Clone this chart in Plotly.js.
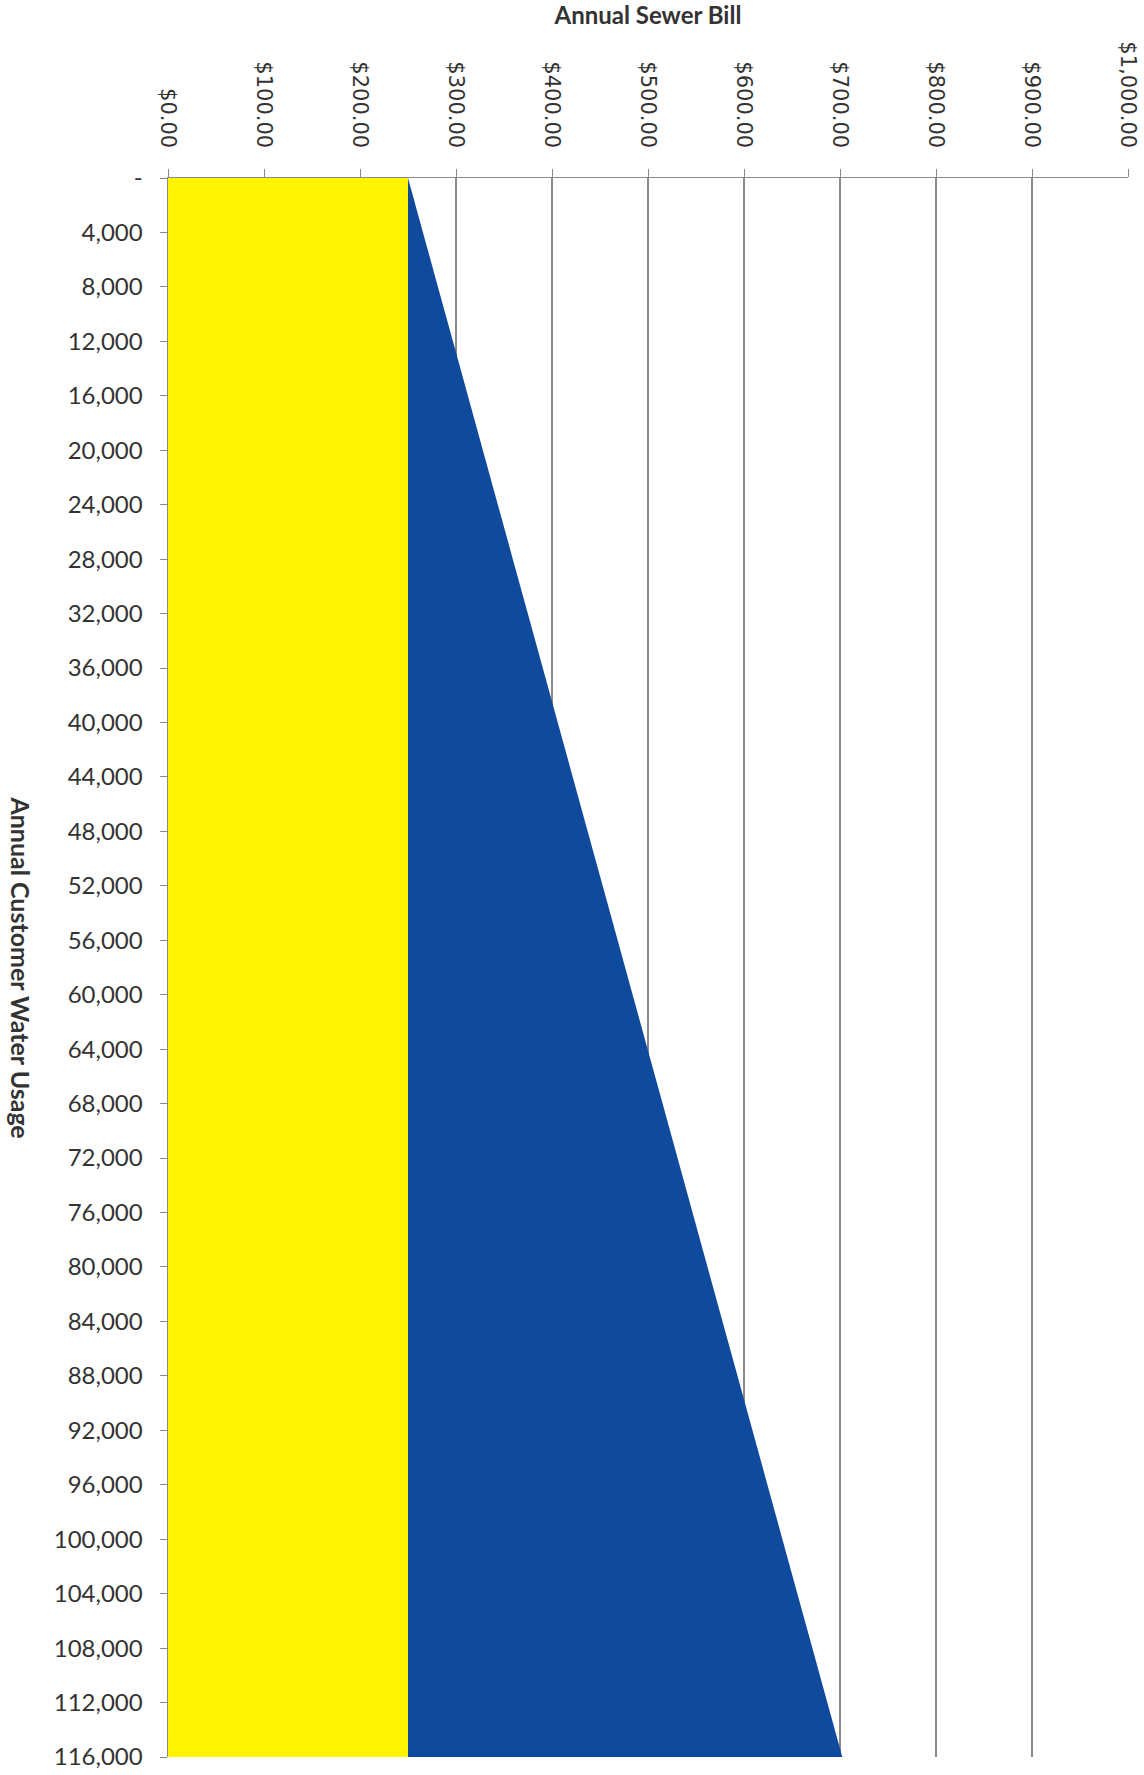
<!DOCTYPE html>
<html>
<head>
<meta charset="utf-8">
<script src="https://cdn.plot.ly/plotly-3.0.1.min.js"></script>
<style>html,body{margin:0;padding:0;background:#fff;}#chart{width:1144px;height:1775px;}</style>
</head>
<body>
<div id="chart"></div>
<script>
// Annual customer water usage (gallons), categories from top to bottom
const usage = [0, 4000, 8000, 12000, 16000, 20000, 24000, 28000, 32000, 36000,
  40000, 44000, 48000, 52000, 56000, 60000, 64000, 68000, 72000, 76000,
  80000, 84000, 88000, 92000, 96000, 100000, 104000, 108000, 112000, 116000];
const usageLabels = ["-", "4,000", "8,000", "12,000", "16,000", "20,000", "24,000", "28,000", "32,000", "36,000",
  "40,000", "44,000", "48,000", "52,000", "56,000", "60,000", "64,000", "68,000", "72,000", "76,000",
  "80,000", "84,000", "88,000", "92,000", "96,000", "100,000", "104,000", "108,000", "112,000", "116,000"];
// Fixed base charge ($) - yellow
const baseCharge = [250, 250, 250, 250, 250, 250, 250, 250, 250, 250,
  250, 250, 250, 250, 250, 250, 250, 250, 250, 250,
  250, 250, 250, 250, 250, 250, 250, 250, 250, 250];
// Volume charge ($) - blue
const volumeCharge = [0, 15.6, 31.2, 46.8, 62.4, 78, 93.6, 109.2, 124.8, 140.4,
  156, 171.6, 187.2, 202.8, 218.4, 234, 249.6, 265.2, 280.8, 296.4,
  312, 327.6, 343.2, 358.8, 374.4, 390, 405.6, 421.2, 436.8, 452.4];
// Bill axis ticks
const billTicks = [0, 100, 200, 300, 400, 500, 600, 700, 800, 900, 1000];
const billTickLabels = ["$0.00", "$100.00", "$200.00", "$300.00", "$400.00", "$500.00",
  "$600.00", "$700.00", "$800.00", "$900.00", "$1,000.00"];

const traces = [
  {
    type: 'scatter', x: baseCharge, y: usage, stackgroup: 'bill', orientation: 'h',
    mode: 'none', fillcolor: '#FFF400', line: {width: 0}, name: 'Base', hoverinfo: 'x+y'
  },
  {
    type: 'scatter', x: volumeCharge, y: usage, stackgroup: 'bill', orientation: 'h',
    mode: 'none', fillcolor: '#104A9C', line: {width: 0}, name: 'Volume', hoverinfo: 'x+y'
  }
];

const layout = {
  width: 1144, height: 1775,
  margin: {l: 168, r: 16, t: 178, b: 18},
  paper_bgcolor: '#ffffff', plot_bgcolor: '#ffffff',
  showlegend: false,
  font: {family: 'Lato, "Open Sans", sans-serif', color: '#333333'},
  xaxis: {
    side: 'top', range: [0, 1000], tickvals: billTicks, ticktext: billTickLabels,
    tickangle: 90, ticks: 'outside', ticklen: 8, tickcolor: '#888888',
    ticklabelstandoff: 13,
    showgrid: true, gridcolor: '#8a8a8a', gridwidth: 1.3,
    showline: true, linecolor: '#8a8a8a', linewidth: 1.5,
    zeroline: false,
    tickfont: {family: '"DejaVu Sans", sans-serif', size: 21, color: '#333333'},
    title: {text: 'Annual Sewer Bill', standoff: 16,
      font: {family: 'Lato, sans-serif', size: 24, color: '#333333', weight: 'bold'}}
  },
  yaxis: {
    range: [116000, 0], tickvals: usage, ticktext: usageLabels,
    ticks: 'outside', ticklen: 7, tickcolor: '#888888',
    ticklabelstandoff: 12,
    showgrid: false, showline: true, linecolor: '#8a8a8a', linewidth: 1.5,
    zeroline: false,
    tickfont: {family: 'Lato, sans-serif', size: 24, color: '#333333'}
  },
  annotations: [{
    text: '<b>Annual Customer Water Usage</b>', textangle: 90,
    xref: 'paper', yref: 'paper', x: -0.153, y: 0.5, xanchor: 'center', yanchor: 'middle',
    showarrow: false, font: {family: 'Lato, sans-serif', size: 25, color: '#333333'}
  }]
};

Plotly.newPlot('chart', traces, layout, {displayModeBar: false, staticPlot: true});
</script>
</body>
</html>
